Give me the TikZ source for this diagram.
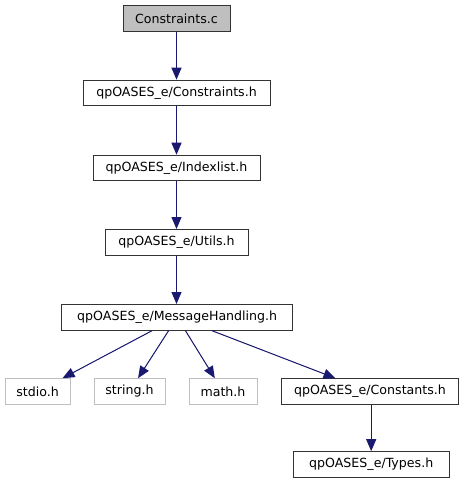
\documentclass[tikz,border=0pt]{standalone}
\usepackage{fontspec}
\setmainfont{DejaVu Sans}
\usetikzlibrary{arrows.meta}
\definecolor{edgec}{HTML}{191970}
\definecolor{grayfill}{HTML}{BFBFBF}
\definecolor{lightb}{HTML}{BFBFBF}
\tikzset{
  box/.style={draw=black!80, line width=1pt, minimum height=25.6pt, inner sep=0pt, font=\fontsize{12.6}{14}\selectfont},
  sysbox/.style={box, draw=lightb},
  curbox/.style={box, fill=grayfill},
  dep/.style={draw=edgec, fill=edgec, line width=1pt, -{Triangle[length=12pt,width=10pt]}}
}
\begin{document}
\begin{tikzpicture}[x=1pt,y=-1pt]
\useasboundingbox (0,0) rectangle (466,485);
\node[curbox, minimum width=107pt] (cc) at (176.5,18.5) {Constraints.c};
\node[box, minimum width=187pt] (ch) at (176.5,93) {qpOASES\_e/Constraints.h};
\node[box, minimum width=167pt] (il) at (176.5,168) {qpOASES\_e/Indexlist.h};
\node[box, minimum width=143pt] (ut) at (176.5,242.3) {qpOASES\_e/Utils.h};
\node[box, minimum width=231pt] (mh) at (177.2,317.3) {qpOASES\_e/MessageHandling.h};
\node[sysbox, minimum width=65pt] (st) at (37.5,391.5) {stdio.h};
\node[sysbox, minimum width=71pt] (sg) at (129.5,391.5) {string.h};
\node[sysbox, minimum width=68pt] (ma) at (223,391.5) {math.h};
\node[box, minimum width=176.6pt] (co) at (370,391.5) {qpOASES\_e/Constants.h};
\node[box, minimum width=155.7pt] (ty) at (371.2,464.5) {qpOASES\_e/Types.h};
\draw[dep] (cc) -- (ch);
\draw[dep] (ch) -- (il);
\draw[dep] (il) -- (ut);
\draw[dep] (ut) -- (ut.south |- mh.north);
\draw[dep] (mh) -- (st);
\draw[dep] (mh) -- (sg);
\draw[dep] (mh) -- (ma);
\draw[dep] (mh) -- (co);
\draw[dep] (co.south -| ty.north) -- (ty);
\end{tikzpicture}
\end{document}
